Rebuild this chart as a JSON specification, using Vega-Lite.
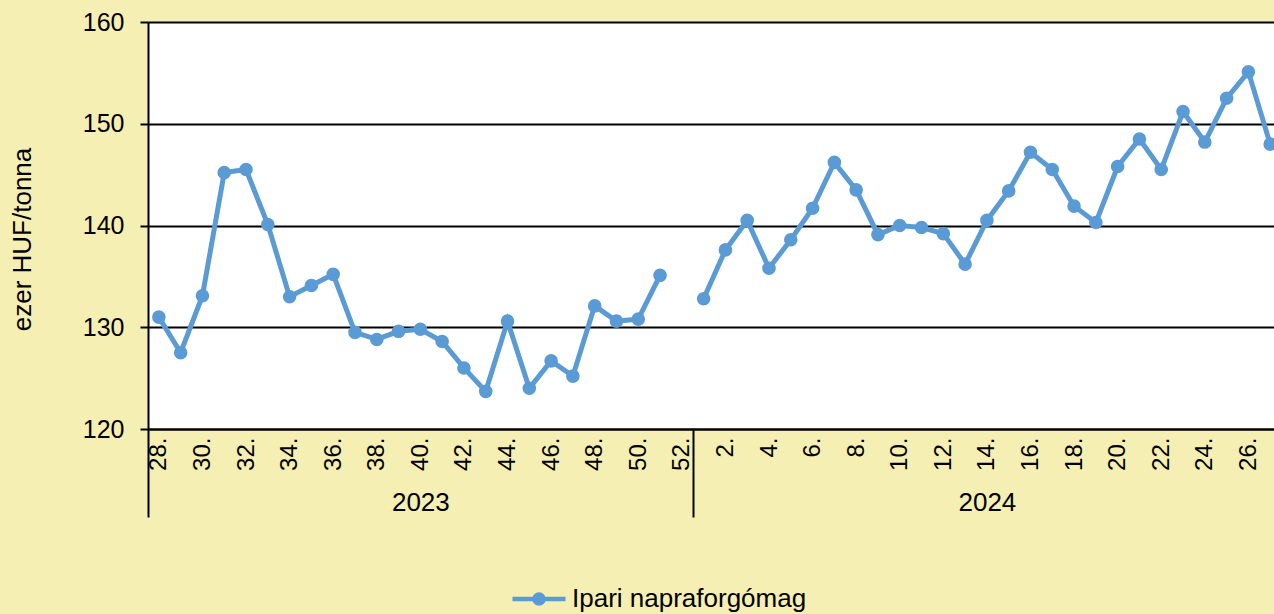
{
  "$schema": "https://vega.github.io/schema/vega-lite/v6.json",
  "autosize": {"type": "none"},
  "padding": {"left": 148, "top": 22, "right": 0, "bottom": 185},
  "width": 1126,
  "height": 407,
  "background": "#F5EFB4",
  "data": {"values": [
    {"key": "2023-28", "year": 2023, "week": 28, "price": 131.0, "series": "Ipari napraforgómag"},
    {"key": "2023-29", "year": 2023, "week": 29, "price": 127.5, "series": "Ipari napraforgómag"},
    {"key": "2023-30", "year": 2023, "week": 30, "price": 133.1, "series": "Ipari napraforgómag"},
    {"key": "2023-31", "year": 2023, "week": 31, "price": 145.2, "series": "Ipari napraforgómag"},
    {"key": "2023-32", "year": 2023, "week": 32, "price": 145.5, "series": "Ipari napraforgómag"},
    {"key": "2023-33", "year": 2023, "week": 33, "price": 140.1, "series": "Ipari napraforgómag"},
    {"key": "2023-34", "year": 2023, "week": 34, "price": 133.0, "series": "Ipari napraforgómag"},
    {"key": "2023-35", "year": 2023, "week": 35, "price": 134.1, "series": "Ipari napraforgómag"},
    {"key": "2023-36", "year": 2023, "week": 36, "price": 135.2, "series": "Ipari napraforgómag"},
    {"key": "2023-37", "year": 2023, "week": 37, "price": 129.5, "series": "Ipari napraforgómag"},
    {"key": "2023-38", "year": 2023, "week": 38, "price": 128.8, "series": "Ipari napraforgómag"},
    {"key": "2023-39", "year": 2023, "week": 39, "price": 129.6, "series": "Ipari napraforgómag"},
    {"key": "2023-40", "year": 2023, "week": 40, "price": 129.8, "series": "Ipari napraforgómag"},
    {"key": "2023-41", "year": 2023, "week": 41, "price": 128.6, "series": "Ipari napraforgómag"},
    {"key": "2023-42", "year": 2023, "week": 42, "price": 126.0, "series": "Ipari napraforgómag"},
    {"key": "2023-43", "year": 2023, "week": 43, "price": 123.7, "series": "Ipari napraforgómag"},
    {"key": "2023-44", "year": 2023, "week": 44, "price": 130.6, "series": "Ipari napraforgómag"},
    {"key": "2023-45", "year": 2023, "week": 45, "price": 124.0, "series": "Ipari napraforgómag"},
    {"key": "2023-46", "year": 2023, "week": 46, "price": 126.7, "series": "Ipari napraforgómag"},
    {"key": "2023-47", "year": 2023, "week": 47, "price": 125.2, "series": "Ipari napraforgómag"},
    {"key": "2023-48", "year": 2023, "week": 48, "price": 132.1, "series": "Ipari napraforgómag"},
    {"key": "2023-49", "year": 2023, "week": 49, "price": 130.6, "series": "Ipari napraforgómag"},
    {"key": "2023-50", "year": 2023, "week": 50, "price": 130.8, "series": "Ipari napraforgómag"},
    {"key": "2023-51", "year": 2023, "week": 51, "price": 135.1, "series": "Ipari napraforgómag"},
    {"key": "2023-52", "year": 2023, "week": 52, "price": null, "series": "Ipari napraforgómag"},
    {"key": "2024-1", "year": 2024, "week": 1, "price": 132.8, "series": "Ipari napraforgómag"},
    {"key": "2024-2", "year": 2024, "week": 2, "price": 137.6, "series": "Ipari napraforgómag"},
    {"key": "2024-3", "year": 2024, "week": 3, "price": 140.5, "series": "Ipari napraforgómag"},
    {"key": "2024-4", "year": 2024, "week": 4, "price": 135.8, "series": "Ipari napraforgómag"},
    {"key": "2024-5", "year": 2024, "week": 5, "price": 138.6, "series": "Ipari napraforgómag"},
    {"key": "2024-6", "year": 2024, "week": 6, "price": 141.7, "series": "Ipari napraforgómag"},
    {"key": "2024-7", "year": 2024, "week": 7, "price": 146.2, "series": "Ipari napraforgómag"},
    {"key": "2024-8", "year": 2024, "week": 8, "price": 143.5, "series": "Ipari napraforgómag"},
    {"key": "2024-9", "year": 2024, "week": 9, "price": 139.1, "series": "Ipari napraforgómag"},
    {"key": "2024-10", "year": 2024, "week": 10, "price": 140.0, "series": "Ipari napraforgómag"},
    {"key": "2024-11", "year": 2024, "week": 11, "price": 139.8, "series": "Ipari napraforgómag"},
    {"key": "2024-12", "year": 2024, "week": 12, "price": 139.2, "series": "Ipari napraforgómag"},
    {"key": "2024-13", "year": 2024, "week": 13, "price": 136.2, "series": "Ipari napraforgómag"},
    {"key": "2024-14", "year": 2024, "week": 14, "price": 140.5, "series": "Ipari napraforgómag"},
    {"key": "2024-15", "year": 2024, "week": 15, "price": 143.4, "series": "Ipari napraforgómag"},
    {"key": "2024-16", "year": 2024, "week": 16, "price": 147.2, "series": "Ipari napraforgómag"},
    {"key": "2024-17", "year": 2024, "week": 17, "price": 145.5, "series": "Ipari napraforgómag"},
    {"key": "2024-18", "year": 2024, "week": 18, "price": 141.9, "series": "Ipari napraforgómag"},
    {"key": "2024-19", "year": 2024, "week": 19, "price": 140.3, "series": "Ipari napraforgómag"},
    {"key": "2024-20", "year": 2024, "week": 20, "price": 145.8, "series": "Ipari napraforgómag"},
    {"key": "2024-21", "year": 2024, "week": 21, "price": 148.5, "series": "Ipari napraforgómag"},
    {"key": "2024-22", "year": 2024, "week": 22, "price": 145.5, "series": "Ipari napraforgómag"},
    {"key": "2024-23", "year": 2024, "week": 23, "price": 151.2, "series": "Ipari napraforgómag"},
    {"key": "2024-24", "year": 2024, "week": 24, "price": 148.2, "series": "Ipari napraforgómag"},
    {"key": "2024-25", "year": 2024, "week": 25, "price": 152.5, "series": "Ipari napraforgómag"},
    {"key": "2024-26", "year": 2024, "week": 26, "price": 155.1, "series": "Ipari napraforgómag"},
    {"key": "2024-27", "year": 2024, "week": 27, "price": 148.0, "series": "Ipari napraforgómag"}
  ]},
  "resolve": {"axis": {"x": "independent"}},
  "layer": [
    {
      "mark": {"type": "line", "strokeWidth": 5, "invalid": "break-paths-show-domains"},
      "encoding": {
        "x": {
          "field": "key", "type": "ordinal",
          "scale": {"type": "point", "padding": 0.337, "align": 0.74, "round": false,
            "domain": ["2023-28","2023-29","2023-30","2023-31","2023-32","2023-33","2023-34","2023-35","2023-36","2023-37","2023-38","2023-39","2023-40","2023-41","2023-42","2023-43","2023-44","2023-45","2023-46","2023-47","2023-48","2023-49","2023-50","2023-51","2023-52","2024-1","2024-2","2024-3","2024-4","2024-5","2024-6","2024-7","2024-8","2024-9","2024-10","2024-11","2024-12","2024-13","2024-14","2024-15","2024-16","2024-17","2024-18","2024-19","2024-20","2024-21","2024-22","2024-23","2024-24","2024-25","2024-26","2024-27"]},
          "axis": {
            "title": null, "orient": "bottom",
            "values": ["2023-28","2023-30","2023-32","2023-34","2023-36","2023-38","2023-40","2023-42","2023-44","2023-46","2023-48","2023-50","2023-52","2024-2","2024-4","2024-6","2024-8","2024-10","2024-12","2024-14","2024-16","2024-18","2024-20","2024-22","2024-24","2024-26"],
            "labelExpr": "split(datum.value, '-')[1] + '.'",
            "labelAngle": -90, "labelFontSize": 24, "labelColor": "black", "labelPadding": 8,
            "labelOverlap": false, "ticks": false, "tickSize": 0,
            "domain": true, "domainColor": "black", "domainWidth": 2, "grid": false
          }
        },
        "y": {"field": "price", "type": "quantitative", "title": "ezer HUF/tonna",
          "scale": {"domain": [120, 160], "nice": false, "zero": false},
          "axis": {"values": [120, 130, 140, 150, 160]}},
        "color": {"field": "series", "type": "nominal", "title": null,
          "scale": {"range": ["#5B9BD5"]}}
      }
    },
    {
      "mark": {"type": "point", "filled": true, "size": 185, "opacity": 1},
      "encoding": {
        "x": {
          "field": "key", "type": "ordinal",
          "axis": {
            "title": null, "orient": "bottom",
            "values": ["2023-28", "2024-1"],
            "labels": false, "domain": false, "grid": false,
            "ticks": true, "tickSize": 88, "tickWidth": 2, "tickColor": "black", "tickOffset": -10.9
          }
        },
        "y": {"field": "price", "type": "quantitative", "title": "ezer HUF/tonna",
          "axis": {"values": [120, 130, 140, 150, 160]}},
        "color": {"field": "series", "type": "nominal", "title": null}
      }
    },
    {
      "mark": {"type": "point", "opacity": 0},
      "encoding": {
        "x": {
          "field": "key", "type": "ordinal",
          "axis": {
            "title": null, "orient": "bottom",
            "values": ["2023-40", "2024-14"],
            "labelExpr": "split(datum.value, '-')[0]",
            "labelAngle": 0, "labelAlign": "center", "labelBaseline": "top",
            "labelFontSize": 26, "labelColor": "black", "labelPadding": 60,
            "ticks": false, "tickSize": 0, "domain": false, "grid": false, "labelOverlap": false
          }
        },
        "y": {"field": "price", "type": "quantitative", "title": "ezer HUF/tonna",
          "axis": {"values": [120, 130, 140, 150, 160]}}
      }
    }
  ],
  "config": {
    "font": "Liberation Sans",
    "view": {"fill": "white", "stroke": null},
    "axisY": {
      "grid": true, "gridColor": "black", "gridWidth": 2, "gridOpacity": 1,
      "domain": true, "domainColor": "black", "domainWidth": 2,
      "ticks": true, "tickSize": 8, "tickColor": "black", "tickWidth": 2,
      "labelFontSize": 25, "labelColor": "black", "labelPadding": 16,
      "titleFontSize": 26, "titleFontWeight": "normal", "titleColor": "black",
      "titleX": -126, "titleY": 217, "titleBaseline": "middle", "titleAngle": -90, "titleAlign": "center"
    },
    "legend": {
      "orient": "none", "legendX": 362, "legendY": 548, "padding": 0,
      "labelFontSize": 26, "labelColor": "black", "labelOffset": 4, "labelLimit": 0,
      "symbolType": "M-1,0H1M0.17,0A0.17,0.17,0,1,1,-0.17,0A0.17,0.17,0,1,1,0.17,0Z",
      "symbolSize": 2809, "symbolStrokeWidth": 4.5,
      "symbolStrokeColor": "#5B9BD5", "symbolFillColor": "#5B9BD5", "symbolOpacity": 1
    }
  }
}
